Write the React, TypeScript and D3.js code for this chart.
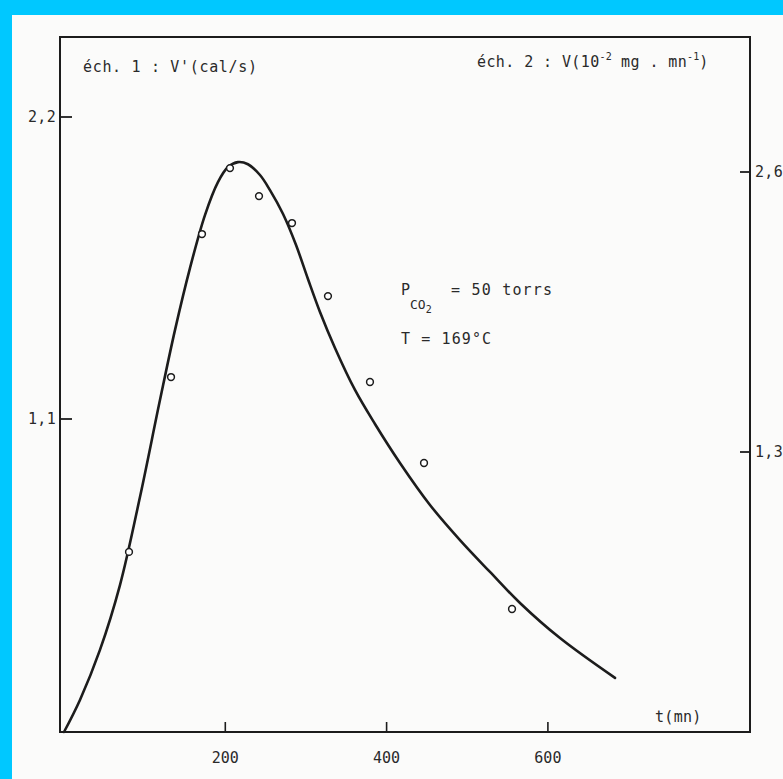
import React from "react";
import * as d3 from "d3";

// measured points (t in mn, V on right scale éch. 2)
const pointT = [80.6, 132.7, 171.1, 205.8, 241.8, 282.7, 327.3, 379.4, 446.4, 555.5];
const pointV = [0.836, 1.648, 2.312, 2.618, 2.488, 2.363, 2.024, 1.625, 1.249, 0.571];

// fitted curve
const curveT = [0, 19.8, 44.6, 69.4, 94.2, 119.0, 137.6, 156.2, 174.8, 190.9, 203.3, 215.7, 228.1, 243.0, 255.4, 271.6, 287.7, 302.5, 317.4, 336.0, 360.8, 385.6, 416.6, 453.8, 491.0, 528.2, 565.4, 615.0, 683.2];
const curveV = [0, 0.149, 0.381, 0.682, 1.091, 1.541, 1.866, 2.154, 2.400, 2.553, 2.623, 2.646, 2.636, 2.586, 2.516, 2.405, 2.261, 2.103, 1.950, 1.783, 1.588, 1.430, 1.249, 1.054, 0.891, 0.743, 0.599, 0.436, 0.251];

const xTicks = [200, 400, 600];
const leftTicks = [1.1, 2.2];
const rightTicks = [1.3, 2.6];

const W = 783;
const H = 779;
const FONT = "'DejaVu Sans Mono', 'Liberation Mono', monospace";
const INK = "#1c1c1c";
const TXT = "#2a2a2a";

const fmt = (v: number) => String(v).replace(".", ",");

export default function App() {
  const left = 60, right = 750, top = 37, bottom = 732;
  const x = d3.scaleLinear().domain([0, 600]).range([64, 547.9]);
  const yR = d3.scaleLinear().domain([0, 2.6]).range([732, 172]);
  const yL = d3.scaleLinear().domain([0, 2.2]).range([721, 117]);

  const curveData = curveT.map((t, i) => [t, curveV[i]] as [number, number]);
  const line = d3
    .line<[number, number]>()
    .x((d) => x(d[0]))
    .y((d) => yR(d[1]))
    .curve(d3.curveCatmullRom.alpha(0.5));

  return (
    <svg
      width={W}
      height={H}
      style={{ position: "absolute", left: 0, top: 0, display: "block" }}
      fontFamily={FONT}
    >
      <rect x={0} y={0} width={W} height={H} fill="#fbfbfa" />
      {/* cyan scan border */}
      <rect x={0} y={0} width={W} height={15} fill="#00c8ff" />
      <rect x={0} y={0} width={12} height={H} fill="#00c8ff" />

      {/* frame */}
      <rect x={left} y={top} width={right - left} height={bottom - top} fill="none" stroke={INK} strokeWidth={2} />

      {/* x ticks */}
      {xTicks.map((t) => (
        <g key={"x" + t}>
          <line x1={x(t)} x2={x(t)} y1={bottom - 10} y2={bottom} stroke={INK} strokeWidth={1.6} />
          <text x={x(t)} y={763} textAnchor="middle" fontSize={15} fill={TXT}>
            {t}
          </text>
        </g>
      ))}

      {/* left ticks */}
      {leftTicks.map((v) => (
        <g key={"l" + v}>
          <line x1={left} x2={left + 12} y1={yL(v)} y2={yL(v)} stroke={INK} strokeWidth={1.8} />
          <text x={56} y={yL(v) + 5} textAnchor="end" fontSize={15} fill={TXT} letterSpacing={0.3}>
            {fmt(v)}
          </text>
        </g>
      ))}

      {/* right ticks */}
      {rightTicks.map((v) => (
        <g key={"r" + v}>
          <line x1={right - 10} x2={right} y1={yR(v)} y2={yR(v)} stroke={INK} strokeWidth={1.8} />
          <text x={755} y={yR(v) + 5} textAnchor="start" fontSize={15} fill={TXT} letterSpacing={0.3}>
            {fmt(v)}
          </text>
        </g>
      ))}

      {/* curve */}
      <path d={line(curveData) || ""} fill="none" stroke={INK} strokeWidth={2.6} strokeLinecap="round" />

      {/* points */}
      {pointT.map((t, i) => (
        <circle key={"p" + i} cx={x(t)} cy={yR(pointV[i])} r={3.4} fill="#fff" stroke={INK} strokeWidth={1.5} />
      ))}

      {/* titles */}
      <text x={83} y={72} fontSize={15} fill={TXT} textLength={174} lengthAdjust="spacing">
        éch. 1 : V'(cal/s)
      </text>
      <text x={477} y={67} fontSize={15} fill={TXT}>
        <tspan letterSpacing={0.4}>éch. 2 : V(10</tspan>
        <tspan fontSize={10} dy={-7}>-2</tspan>
        <tspan dy={7} letterSpacing={0.4}> mg . mn</tspan>
        <tspan fontSize={10} dy={-7}>-1</tspan>
        <tspan dy={7}>)</tspan>
      </text>

      <text x={655} y={722} fontSize={15} fill={TXT} letterSpacing={0.3}>
        t(mn)
      </text>

      {/* annotation */}
      <text x={401} y={295} fontSize={15} fill={TXT}>
        P
      </text>
      <text x={410} y={309} fontSize={13} fill={TXT}>
        <tspan>CO</tspan>
        <tspan fontSize={10} dy={4}>2</tspan>
      </text>
      <text x={451} y={295} fontSize={15} fill={TXT} letterSpacing={1.2}>
        = 50 torrs
      </text>
      <text x={401} y={344} fontSize={15} fill={TXT} letterSpacing={1.1}>
        T = 169°C
      </text>
    </svg>
  );
}
